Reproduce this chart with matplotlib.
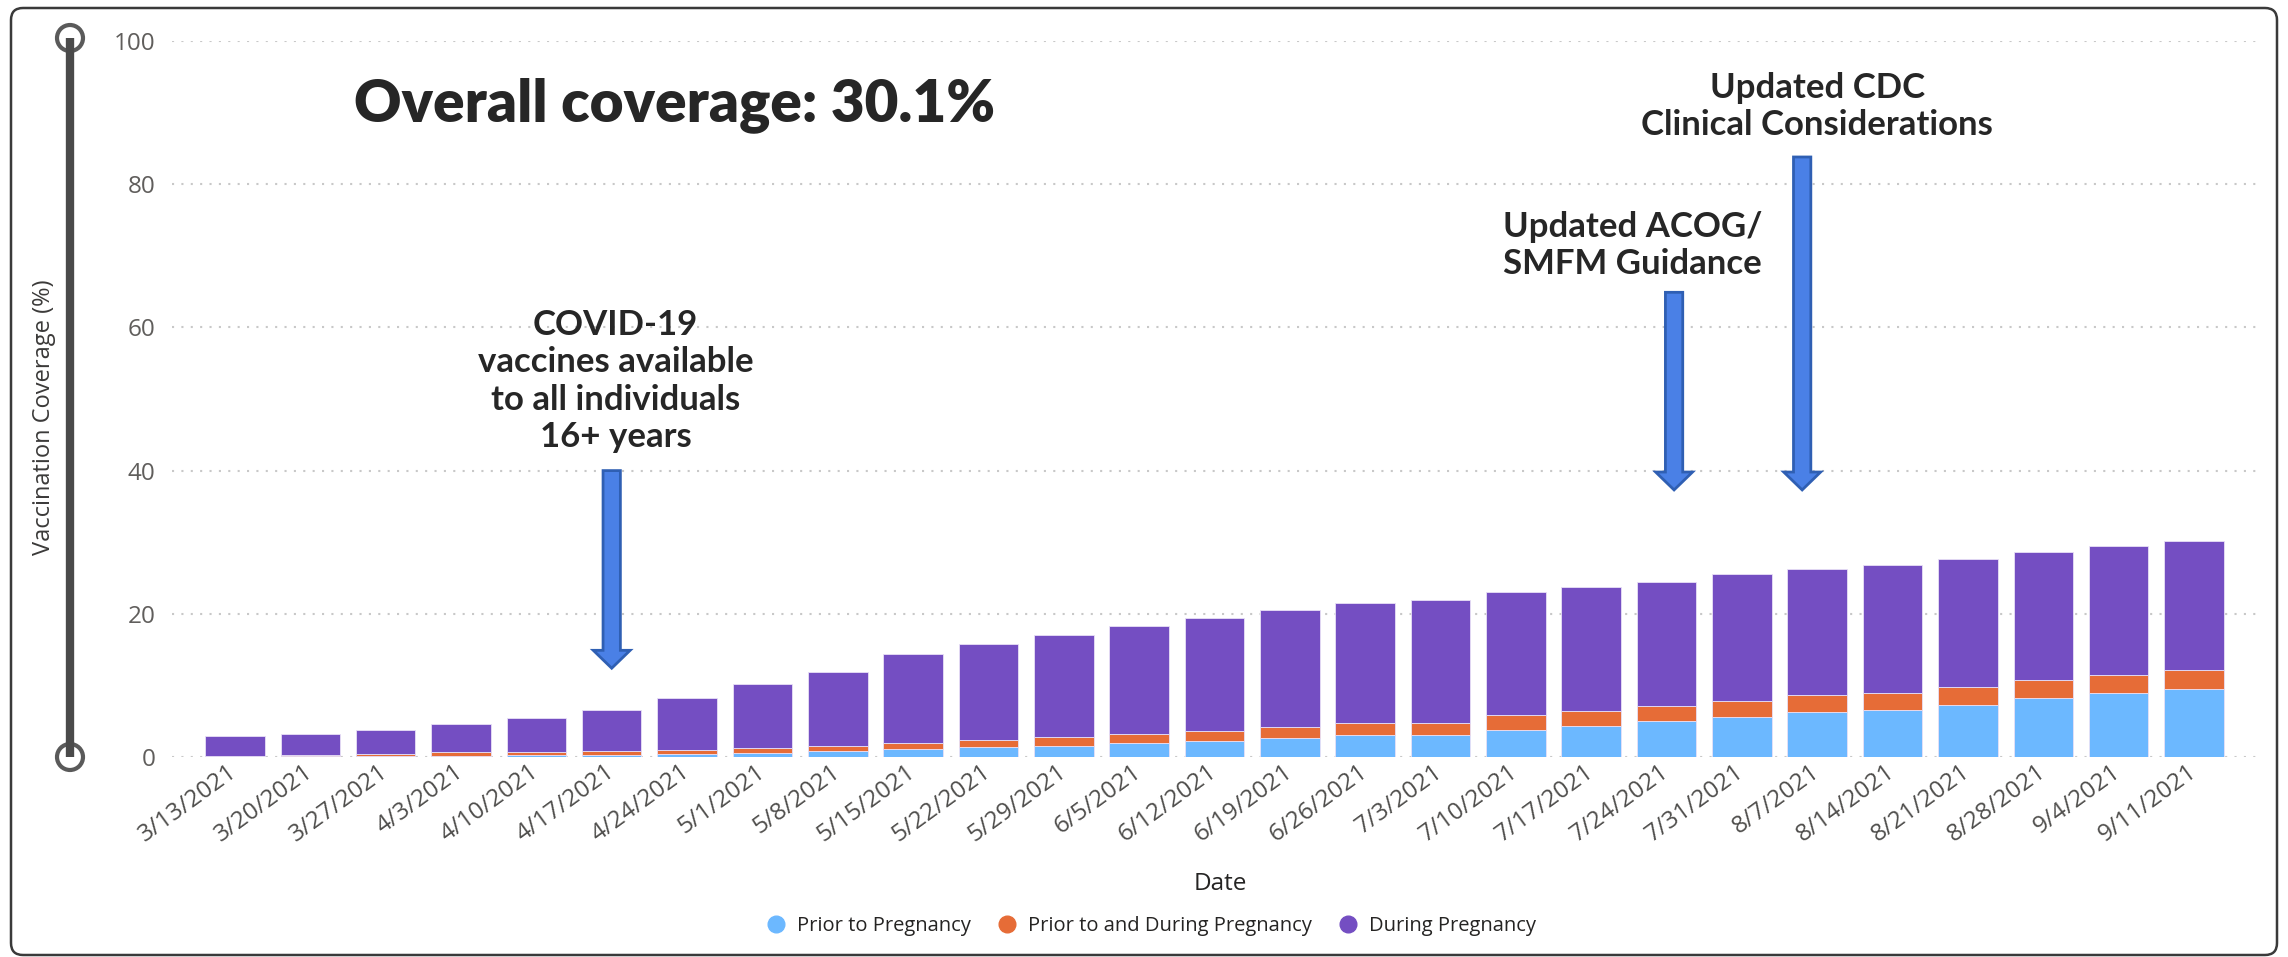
import numpy as np
import matplotlib.pyplot as plt
from matplotlib.lines import Line2D
from matplotlib.patches import FancyArrow, FancyBboxPatch, Circle

# weekly cumulative coverage, split by timing of vaccination (%)
dates = ['3/13/2021', '3/20/2021', '3/27/2021', '4/3/2021', '4/10/2021', '4/17/2021',
         '4/24/2021', '5/1/2021', '5/8/2021', '5/15/2021', '5/22/2021', '5/29/2021',
         '6/5/2021', '6/12/2021', '6/19/2021', '6/26/2021', '7/3/2021', '7/10/2021',
         '7/17/2021', '7/24/2021', '7/31/2021', '8/7/2021', '8/14/2021', '8/21/2021',
         '8/28/2021', '9/4/2021', '9/11/2021']
prior = [0.05, 0.10, 0.15, 0.20, 0.25, 0.30, 0.42, 0.61, 0.84, 1.17, 1.36, 1.59, 1.92,
         2.25, 2.67, 3.04, 3.04, 3.84, 4.38, 4.98, 5.57, 6.27, 6.57, 7.31, 8.21, 8.91, 9.45]
prior_and_during = [0.10, 0.18, 0.27, 0.46, 0.45, 0.54, 0.61, 0.63, 0.71, 0.83, 0.98,
                    1.27, 1.36, 1.40, 1.55, 1.74, 1.76, 2.00, 2.09, 2.18, 2.29, 2.44,
                    2.43, 2.49, 2.49, 2.53, 2.64]
during = [2.75, 2.92, 3.38, 3.94, 4.80, 5.76, 7.27, 8.96, 10.35, 12.40, 13.46, 14.24,
          15.02, 15.75, 16.38, 16.72, 17.10, 17.16, 17.33, 17.34, 17.64, 17.49, 17.80,
          17.80, 17.90, 17.96, 18.01]
series_names = ['Prior to Pregnancy', 'Prior to and During Pregnancy', 'During Pregnancy']
colors = ['#6cb8ff', '#e66c37', '#744ec2']

# policy events: (label, x position in bar units, label centre y, arrow top, arrow tip)
events = [
    ('COVID-19\nvaccines available\nto all individuals\n16+ years', 5.0, 52.5, 40.0, 12.4),
    ('Updated ACOG/\nSMFM Guidance', 19.1, 71.4, 64.9, 37.3),
    ('Updated CDC\nClinical Considerations', 20.8, 90.9, 83.8, 37.3),
]
event_label_x = [5.05, 18.55, 21.0]

W, H = 2288, 957
fig = plt.figure(figsize=(W / 100, H / 100), dpi=100)
fig.patch.set_facecolor('white')

# pixel-space layer for the frame and the slider
bg = fig.add_axes([0, 0, 1, 1], zorder=-1)
bg.set_xlim(0, W)
bg.set_ylim(H, 0)
bg.axis('off')
bg.add_patch(FancyBboxPatch((11, 8), 2277 - 11, 955 - 8,
                            boxstyle='round,pad=0,rounding_size=12',
                            facecolor='white', edgecolor='#3a3a3a', linewidth=1.8))
bg.plot([70, 70], [38, 757], color='#4a4a4a', linewidth=6, solid_capstyle='butt')
for cy in (38, 757):
    bg.add_patch(Circle((70, cy), 13, facecolor='white', edgecolor='#5a5a5a', linewidth=3))

ax = fig.add_axes([172 / W, 1 - 757 / H, (2258 - 172) / W, (757 - 41) / H])
x = np.arange(len(dates))
bottom = np.zeros(len(dates))
for vals, color in zip([prior, prior_and_during, during], colors):
    ax.bar(x, vals, width=0.79, bottom=bottom, color=color,
           edgecolor='#e8e0f6', linewidth=0.6, zorder=3)
    bottom += np.array(vals)

ax.set_xlim(-0.836, len(dates) - 1 + 0.85)
ax.set_ylim(0, 100)
ax.set_yticks(range(0, 101, 20))
ax.grid(axis='y', color='#c8c8c8', linestyle=(0, (1, 3.5)), linewidth=1.5, zorder=0)
ax.set_axisbelow(True)
for s in ax.spines.values():
    s.set_visible(False)
ax.tick_params(axis='y', length=0, pad=12, labelsize=17.5, labelcolor='#605e5c')
ax.tick_params(axis='x', length=0, pad=9, labelsize=17.5, labelcolor='#4f4e4c')
ax.set_xticks(x)
ax.set_xticklabels(dates, rotation=36, ha='right', va='center', rotation_mode='anchor',
                   fontfamily='Open Sans')
for lab in ax.get_yticklabels():
    lab.set_fontfamily('Open Sans')

fig.text(44 / W, 1 - 417 / H, 'Vaccination Coverage (%)', rotation=90, ha='center',
         va='center', fontsize=17, color='#3b3a39', fontfamily='Open Sans')
fig.text(1220 / W, 1 - 884 / H, 'Date', ha='center', va='center', fontsize=17.5,
         color='#252423', fontfamily='Open Sans')

handles = [Line2D([], [], marker='o', linestyle='none', markersize=12,
                  markerfacecolor=c, markeredgecolor=c) for c in colors]
fig.legend(handles, series_names, loc='center', bbox_to_anchor=(1146 / W, 1 - 926 / H),
           ncol=3, frameon=False, handletextpad=0.05, columnspacing=0.8,
           prop={'family': 'Open Sans', 'size': 14.5}, labelcolor='#252423')

total = np.array(prior) + np.array(prior_and_during) + np.array(during)
ax.text(5.83, 91.1, 'Overall coverage: {:.1f}%'.format(total[-1]), ha='center',
        va='center', fontsize=42, fontweight='heavy', color='#262626', fontfamily='Lato')

for (label, ax_x, ly, top, tip), lx in zip(events, event_label_x):
    ax.text(lx, ly, label, ha='center', va='center', fontsize=25, fontweight='bold',
            color='#262626', fontfamily='Lato', linespacing=1.2)
    ax.add_patch(FancyArrow(ax_x, top, 0, tip - top, width=0.23, head_width=0.49,
                            head_length=2.5, length_includes_head=True,
                            facecolor='#4a80e6', edgecolor='#2f5fb3', linewidth=2,
                            zorder=5))

fig.savefig('out.png', dpi=100, facecolor='white')
